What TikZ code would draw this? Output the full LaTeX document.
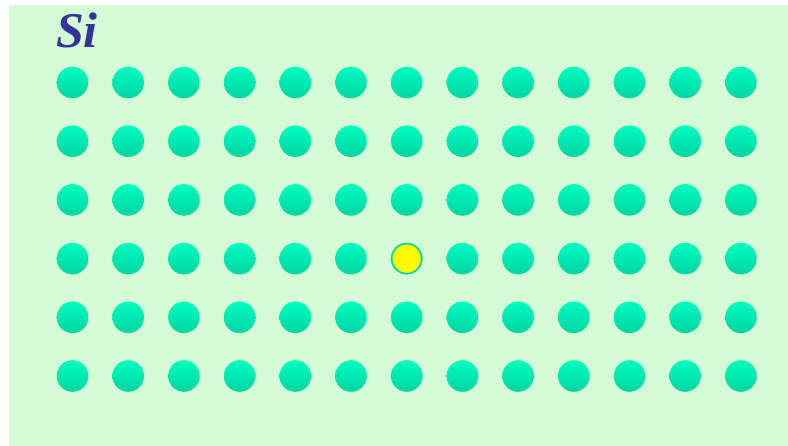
\documentclass[tikz,border=0pt]{standalone}
\usepackage{fontspec}
\setmainfont{Liberation Serif}
\usepackage{xcolor}
\usepackage{tikz}
\usetikzlibrary{calc, positioning}

\definecolor{nen}{RGB}{212,251,214}
\definecolor{xanhtren}{RGB}{0,252,192}
\definecolor{xanhduoi}{RGB}{0,212,162}
\definecolor{vien}{RGB}{0,214,168}
\definecolor{chu}{RGB}{51,51,153}
\definecolor{vang}{RGB}{255,250,0}

\begin{document}
\begin{tikzpicture}[x=1pt, y=-1pt,
    nguyentu/.style={circle, minimum size=31.6pt, inner sep=0pt,
        top color=xanhtren, bottom color=xanhduoi},
    tapchat/.style={circle, minimum size=30pt, inner sep=0pt,
        fill=vang, draw=vien, line width=1.6pt}]
    % 1. Nền
    \useasboundingbox (0,0) rectangle (788,446);
    \fill[nen] (9,5) rectangle (788,446);

    % 2. Nhãn
    \node[text=chu, font=\fontsize{50}{50}\selectfont\bfseries\itshape] (nhan) at (77,30) {Si};

    % 3. Mạng tinh thể
    \foreach \i in {0,...,12}
        \foreach \j in {0,...,5}
            \node[nguyentu] (a-\i-\j) at (72.5+55.7*\i, 82.5+58.7*\j) {};

    % 4. Nguyên tử tạp chất
    \node[tapchat] (tc) at (a-6-3) {};
\end{tikzpicture}
\end{document}
